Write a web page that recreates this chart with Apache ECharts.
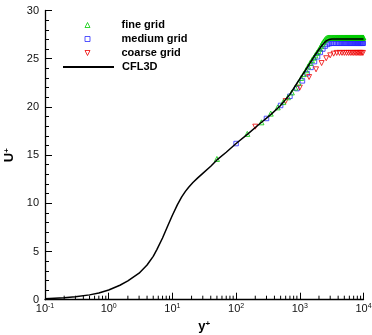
<!DOCTYPE html>
<html>
<head>
<meta charset="utf-8">
<script src="https://cdn.jsdelivr.net/npm/echarts@6/dist/echarts.min.js"></script>
<style>
html,body{margin:0;padding:0;background:#fff;}
#c{width:372px;height:335px;}
</style>
</head>
<body>
<div id="c"></div>
<script>
// ---- data ----
const cflYplus = [0.1,0.2,0.3,0.5,0.7,1.0,1.5,2.0,3.0,4.0,5.0,5.7,7.0,8.5,10,12,14,16,18,21,25,30,40,50,70,100,150,240,350,490,700,873,1000,1200,1445,1700,2000,2300,2600,2900,3200,4000,10000];
const cflUplus  = [0.1,0.2,0.3,0.5,0.7,1.0,1.5,1.95,2.75,3.6,4.5,5.2,6.4,7.7,8.76,9.86,10.66,11.24,11.67,12.15,12.64,13.11,13.85,14.5,15.3,16.2,17.15,18.3,19.2,20.1,21.3,22.3,22.9,23.7,24.55,25.3,25.95,26.5,26.85,27.0,27.05,27.05,27.05];

const fineYplus = [50,150,250,350,450,550,650,750,850,950,1050,1150,1250,1350,1450,1550,1650,1750,1850,1950,2050,2150,2250,2350,2450,2550,2650,2750,2850,2950,3050,3150,3250,3350,3450,3550,3650,3750,3850,3950,4050,4150,4250,4350,4450,4550,4650,4750,4850,4950,5050,5150,5250,5350,5450,5550,5650,5750,5850,5950,6050,6150,6250,6350,6450,6550,6650,6750,6850,6950,7050,7150,7250,7350,7450,7550,7650,7750,7850,7950,8050,8150,8250,8350,8450,8550,8650,8750,8850,8950,9050,9150,9250,9350,9450,9550,9650,9750,9850,9950];
const fineUplus = [14.6,17.2,18.4,19.3,19.95,20.5,21.0,21.5,22.0,22.5,23.0,23.4,23.8,24.2,24.55,24.85,25.1,25.35,25.6,25.8,26.05,26.3,26.55,26.75,26.92,27.05,27.13,27.18,27.2,27.2,27.2,27.2,27.2,27.2,27.2,27.2,27.2,27.2,27.2,27.2,27.2,27.2,27.2,27.2,27.2,27.2,27.2,27.2,27.2,27.2,27.2,27.2,27.2,27.2,27.2,27.2,27.2,27.2,27.2,27.2,27.2,27.2,27.2,27.2,27.2,27.2,27.2,27.2,27.2,27.2,27.2,27.2,27.2,27.2,27.2,27.2,27.2,27.2,27.2,27.2,27.2,27.2,27.2,27.2,27.2,27.2,27.2,27.2,27.2,27.2,27.2,27.2,27.2,27.2,27.2,27.2,27.2,27.2,27.2,27.2];

const mediumYplus = [100,300,500,700,900,1100,1300,1500,1700,1900,2100,2300,2500,2700,2900,3100,3300,3500,3700,3900,4100,4300,4500,4700,4900,5100,5300,5500,5700,5900,6100,6300,6500,6700,6900,7100,7300,7500,7700,7900,8100,8300,8500,8700,8900,9100,9300,9500,9700,9900];
const mediumUplus = [16.2,18.8,20.15,21.1,21.9,22.7,23.45,24.1,24.7,25.2,25.65,26.0,26.3,26.48,26.56,26.6,26.6,26.6,26.6,26.6,26.6,26.6,26.6,26.6,26.6,26.6,26.6,26.6,26.6,26.6,26.6,26.6,26.6,26.6,26.6,26.6,26.6,26.6,26.6,26.6,26.6,26.6,26.6,26.6,26.6,26.6,26.6,26.6,26.6,26.6];

const coarseYplus = [200,600,1000,1400,1800,2200,2600,3000,3400,3800,4200,4600,5000,5400,5800,6200,6600,7000,7400,7800,8200,8600,9000,9400,9800];
const coarseUplus = [17.95,20.6,22.0,23.1,23.9,24.55,25.05,25.35,25.52,25.6,25.6,25.6,25.6,25.6,25.6,25.6,25.6,25.6,25.6,25.6,25.6,25.6,25.6,25.6,25.6];

const seriesNames = ['fine grid','medium grid','coarse grid','CFL3D'];
const seriesColors = ['#00cc00','#2a2aff','#ee0000','#000000'];
const xTickExponents = {'-1':'-1','0':'0','1':'1','2':'2','3':'3','4':'4'};
const xMinorTicks = [0.2,0.3,0.4,0.5,0.6,0.7,0.8,0.9,2,3,4,5,6,7,8,9,20,30,40,50,60,70,80,90,200,300,400,500,600,700,800,900,2000,3000,4000,5000,6000,7000,8000,9000];

// ---- chart ----
const FONT = '"Liberation Sans", Arial, Helvetica, sans-serif';
const pairs = (xs, ys) => xs.map((x, i) => [x, ys[i]]);
const chart = echarts.init(document.getElementById('c'), null, {renderer: 'canvas'});
const legendText = {fontFamily: FONT, fontSize: 11, fontWeight: 'bold', color: '#000', lineHeight: 14};
const hollow = c => ({color: '#ffffff', borderColor: c, borderWidth: 1});

const option = {
  animation: false,
  backgroundColor: '#fff',
  grid: {left: 45, right: 8.5, top: 10.5, bottom: 35.3, outerBoundsMode: 'none', containLabel: false},
  legend: [
    {
      orient: 'vertical', left: 84.5, top: 18, padding: 0,
      itemWidth: 5, itemHeight: 5, itemGap: 0,
      selectedMode: false,
      textStyle: Object.assign({}, legendText, {padding: [0, 0, 0, 26.5]}),
      data: [
        {name: seriesNames[0], icon: 'path://M0,5L2.5,0L5,5Z', itemStyle: hollow(seriesColors[0])},
        {name: seriesNames[1], icon: 'path://M0,0L5,0L5,5L0,5Z', itemStyle: hollow(seriesColors[1])},
        {name: seriesNames[2], icon: 'path://M0,0L5,0L2.5,5Z', itemStyle: hollow(seriesColors[2])}
      ]
    },
    {
      orient: 'vertical', left: 62, top: 60, padding: 0,
      itemWidth: 51, itemHeight: 6, itemGap: 0,
      selectedMode: false,
      textStyle: Object.assign({}, legendText, {padding: [0, 0, 0, 3]}),
      data: [{name: seriesNames[3], itemStyle: {opacity: 0}}]
    }
  ],
  xAxis: {
    type: 'log', logBase: 10, min: 0.1, max: 10000,
    name: 'y{sup|+}', nameLocation: 'middle', nameGap: 12,
    nameTextStyle: {fontFamily: FONT, fontSize: 13, fontWeight: 'bold', color: '#000',
      rich: {sup: {fontFamily: FONT, fontSize: 8, fontWeight: 'bold', color: '#000', lineHeight: 8, verticalAlign: 'top'}}},
    axisLine: {lineStyle: {color: '#000', width: 1.3}},
    axisTick: {inside: true, length: 7, lineStyle: {color: '#000', width: 1}},
    splitLine: {show: false},
    axisLabel: {
      margin: 3, color: '#111', fontFamily: FONT, fontSize: 11,
      formatter: v => '{b|10}{s|' + xTickExponents[String(Math.round(Math.log10(v)))] + '}',
      rich: {
        b: {fontFamily: FONT, fontSize: 11, color: '#111', lineHeight: 13},
        s: {fontFamily: FONT, fontSize: 7, color: '#111', lineHeight: 7, verticalAlign: 'top'}
      }
    }
  },
  yAxis: {
    type: 'value', min: 0, max: 30, interval: 5,
    name: 'U{sup|+}', nameLocation: 'middle', nameGap: 26, nameRotate: 90,
    nameTextStyle: {fontFamily: FONT, fontSize: 13, fontWeight: 'bold', color: '#000',
      rich: {sup: {fontFamily: FONT, fontSize: 8, fontWeight: 'bold', color: '#000', lineHeight: 8, verticalAlign: 'top'}}},
    axisLine: {show: true, lineStyle: {color: '#000', width: 1.3}},
    axisTick: {show: true, inside: true, length: 7, lineStyle: {color: '#000', width: 1}},
    minorTick: {show: true, splitNumber: 5, length: 4, lineStyle: {color: '#000', width: 1}},
    splitLine: {show: false},
    minorSplitLine: {show: false},
    axisLabel: {margin: 6, color: '#111', fontFamily: FONT, fontSize: 11}
  },
  series: [
    {
      name: seriesNames[0], type: 'scatter', data: pairs(fineYplus, fineUplus),
      symbol: 'triangle', symbolSize: 5, clip: false, z: 3,
      itemStyle: {color: 'rgba(0,0,0,0)', borderColor: seriesColors[0], borderWidth: 1}
    },
    {
      name: seriesNames[1], type: 'scatter', data: pairs(mediumYplus, mediumUplus),
      symbol: 'rect', symbolSize: 4.5, clip: false, z: 2,
      itemStyle: {color: 'rgba(0,0,0,0)', borderColor: seriesColors[1], borderWidth: 1}
    },
    {
      name: seriesNames[2], type: 'scatter', data: pairs(coarseYplus, coarseUplus),
      symbol: 'triangle', symbolRotate: 180, symbolSize: 5, clip: false, z: 2,
      itemStyle: {color: 'rgba(0,0,0,0)', borderColor: seriesColors[2], borderWidth: 1}
    },
    {
      name: seriesNames[3], type: 'line', data: pairs(cflYplus, cflUplus),
      symbol: 'none', showSymbol: false, smooth: false, clip: false, z: 4,
      itemStyle: {color: seriesColors[3]},
      lineStyle: {color: seriesColors[3], width: 1.5}
    },
    {
      name: 'xMinorTicks', type: 'custom', data: xMinorTicks.map(v => [v, 0]),
      clip: false, silent: true, z: 5,
      renderItem: (params, api) => {
        const p = api.coord([api.value(0), 0]);
        return {type: 'line', shape: {x1: p[0], y1: p[1], x2: p[0], y2: p[1] - 4},
          style: {stroke: '#000', lineWidth: 1}};
      }
    }
  ]
};
chart.setOption(option);
</script>
</body>
</html>
